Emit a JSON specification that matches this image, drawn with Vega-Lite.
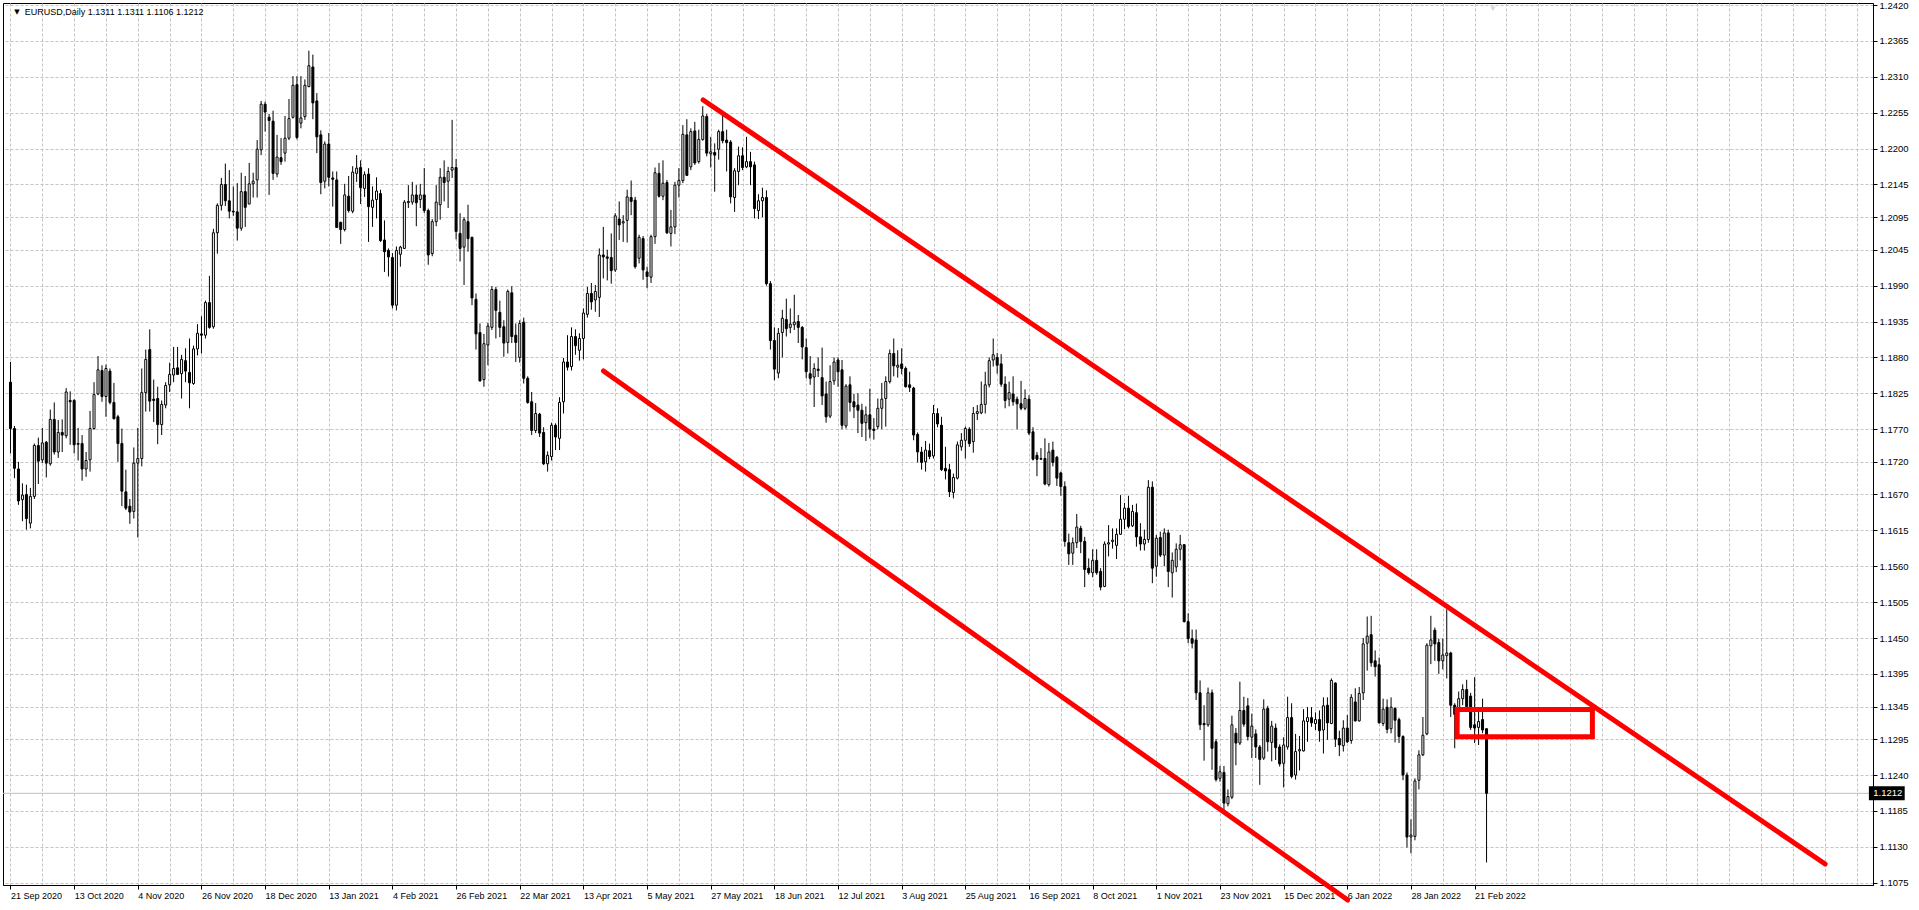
{
"$schema":"https://vega.github.io/schema/vega-lite/v6.json",
"width":1870,"height":882,
"autosize":{"type":"none"},
"padding":{"left":3,"top":3,"right":46,"bottom":25},
"background":"#ffffff",
"config":{"view":{"stroke":"#000000","strokeWidth":1},"font":"Liberation Sans","axis":{"labelFont":"Liberation Sans","labelFontSize":9.5,"labelColor":"#000000","domainColor":"#000000","tickColor":"#000000"}},
"resolve":{"scale":{"x":"shared","y":"shared"},"axis":{"x":"independent","y":"independent"}},
"datasets":{
"k":[
{"i":0,"o":1.1842,"h":1.1873,"l":1.1733,"c":1.1771},
{"i":1,"o":1.1771,"h":1.1775,"l":1.1695,"c":1.1710},
{"i":2,"o":1.1709,"h":1.1720,"l":1.1654,"c":1.1660},
{"i":3,"o":1.1662,"h":1.1687,"l":1.1629,"c":1.1669},
{"i":4,"o":1.1670,"h":1.1685,"l":1.1616,"c":1.1633},
{"i":5,"o":1.1626,"h":1.1680,"l":1.1618,"c":1.1667},
{"i":6,"o":1.1667,"h":1.1748,"l":1.1663,"c":1.1745},
{"i":7,"o":1.1745,"h":1.1757,"l":1.1686,"c":1.1721},
{"i":8,"o":1.1723,"h":1.1772,"l":1.1718,"c":1.1749},
{"i":9,"o":1.1750,"h":1.1752,"l":1.1696,"c":1.1718},
{"i":10,"o":1.1717,"h":1.1800,"l":1.1714,"c":1.1785},
{"i":11,"o":1.1785,"h":1.1811,"l":1.1731,"c":1.1735},
{"i":12,"o":1.1735,"h":1.1784,"l":1.1726,"c":1.1765},
{"i":13,"o":1.1765,"h":1.1785,"l":1.1735,"c":1.1761},
{"i":14,"o":1.1760,"h":1.1833,"l":1.1756,"c":1.1827},
{"i":15,"o":1.1814,"h":1.1828,"l":1.1746,"c":1.1812},
{"i":16,"o":1.1814,"h":1.1816,"l":1.1733,"c":1.1746},
{"i":17,"o":1.1748,"h":1.1772,"l":1.1722,"c":1.1747},
{"i":18,"o":1.1748,"h":1.1761,"l":1.1691,"c":1.1709},
{"i":19,"o":1.1709,"h":1.1735,"l":1.1697,"c":1.1722},
{"i":20,"o":1.1723,"h":1.1798,"l":1.1705,"c":1.1771},
{"i":21,"o":1.1771,"h":1.1842,"l":1.1769,"c":1.1823},
{"i":22,"o":1.1824,"h":1.1882,"l":1.1822,"c":1.1861},
{"i":23,"o":1.1860,"h":1.1868,"l":1.1812,"c":1.1820},
{"i":24,"o":1.1820,"h":1.1869,"l":1.1789,"c":1.1863},
{"i":25,"o":1.1859,"h":1.1863,"l":1.1808,"c":1.1811},
{"i":26,"o":1.1811,"h":1.1841,"l":1.1785,"c":1.1786},
{"i":27,"o":1.1789,"h":1.1792,"l":1.1720,"c":1.1748},
{"i":28,"o":1.1748,"h":1.1771,"l":1.1652,"c":1.1675},
{"i":29,"o":1.1674,"h":1.1708,"l":1.1646,"c":1.1649},
{"i":30,"o":1.1652,"h":1.1663,"l":1.1625,"c":1.1643},
{"i":31,"o":1.1644,"h":1.1742,"l":1.1633,"c":1.1718},
{"i":32,"o":1.1718,"h":1.1772,"l":1.1604,"c":1.1725},
{"i":33,"o":1.1725,"h":1.1863,"l":1.1713,"c":1.1826},
{"i":34,"o":1.1826,"h":1.1892,"l":1.1797,"c":1.1877},
{"i":35,"o":1.1892,"h":1.1923,"l":1.1797,"c":1.1813},
{"i":36,"o":1.1816,"h":1.1846,"l":1.1781,"c":1.1814},
{"i":37,"o":1.1817,"h":1.1835,"l":1.1747,"c":1.1777},
{"i":38,"o":1.1777,"h":1.1814,"l":1.1761,"c":1.1808},
{"i":39,"o":1.1807,"h":1.1842,"l":1.1802,"c":1.1837},
{"i":40,"o":1.1838,"h":1.1872,"l":1.1827,"c":1.1854},
{"i":41,"o":1.1853,"h":1.1896,"l":1.1842,"c":1.1863},
{"i":42,"o":1.1864,"h":1.1896,"l":1.1853,"c":1.1854},
{"i":43,"o":1.1855,"h":1.1884,"l":1.1817,"c":1.1877},
{"i":44,"o":1.1875,"h":1.1894,"l":1.1842,"c":1.1859},
{"i":45,"o":1.1857,"h":1.1909,"l":1.1802,"c":1.1841},
{"i":46,"o":1.1840,"h":1.1898,"l":1.1838,"c":1.1893},
{"i":47,"o":1.1893,"h":1.1931,"l":1.1883,"c":1.1917},
{"i":48,"o":1.1916,"h":1.1943,"l":1.1886,"c":1.1914},
{"i":49,"o":1.1914,"h":1.1967,"l":1.1909,"c":1.1964},
{"i":50,"o":1.1964,"h":1.2005,"l":1.1924,"c":1.1926},
{"i":51,"o":1.1927,"h":1.2077,"l":1.1924,"c":1.2071},
{"i":52,"o":1.2071,"h":1.2116,"l":1.2039,"c":1.2113},
{"i":53,"o":1.2113,"h":1.2155,"l":1.2105,"c":1.2145},
{"i":54,"o":1.2145,"h":1.2177,"l":1.2112,"c":1.2120},
{"i":55,"o":1.2120,"h":1.2167,"l":1.2093,"c":1.2104},
{"i":56,"o":1.2104,"h":1.2142,"l":1.2097,"c":1.2103},
{"i":57,"o":1.2103,"h":1.2147,"l":1.2059,"c":1.2078},
{"i":58,"o":1.2078,"h":1.2163,"l":1.2074,"c":1.2134},
{"i":59,"o":1.2134,"h":1.2158,"l":1.2080,"c":1.2110},
{"i":60,"o":1.2115,"h":1.2178,"l":1.2115,"c":1.2146},
{"i":61,"o":1.2146,"h":1.2163,"l":1.2125,"c":1.2150},
{"i":62,"o":1.2152,"h":1.2213,"l":1.2125,"c":1.2199},
{"i":63,"o":1.2198,"h":1.2273,"l":1.2190,"c":1.2268},
{"i":64,"o":1.2268,"h":1.2272,"l":1.2226,"c":1.2256},
{"i":65,"o":1.2248,"h":1.2253,"l":1.2129,"c":1.2243},
{"i":66,"o":1.2242,"h":1.2258,"l":1.2152,"c":1.2162},
{"i":67,"o":1.2161,"h":1.2221,"l":1.2156,"c":1.2187},
{"i":68,"o":1.2186,"h":1.2216,"l":1.2175,"c":1.2180},
{"i":69,"o":1.2193,"h":1.2250,"l":1.2180,"c":1.2216},
{"i":70,"o":1.2216,"h":1.2276,"l":1.2213,"c":1.2246},
{"i":71,"o":1.2248,"h":1.2311,"l":1.2246,"c":1.2297},
{"i":72,"o":1.2298,"h":1.2311,"l":1.2214,"c":1.2217},
{"i":73,"o":1.2239,"h":1.2311,"l":1.2231,"c":1.2247},
{"i":74,"o":1.2249,"h":1.2306,"l":1.2244,"c":1.2297},
{"i":75,"o":1.2295,"h":1.2350,"l":1.2294,"c":1.2327},
{"i":76,"o":1.2325,"h":1.2344,"l":1.2245,"c":1.2270},
{"i":77,"o":1.2273,"h":1.2285,"l":1.2193,"c":1.2218},
{"i":78,"o":1.2221,"h":1.2228,"l":1.2130,"c":1.2148},
{"i":79,"o":1.2150,"h":1.2211,"l":1.2139,"c":1.2207},
{"i":80,"o":1.2207,"h":1.2224,"l":1.2142,"c":1.2156},
{"i":81,"o":1.2155,"h":1.2165,"l":1.2111,"c":1.2153},
{"i":82,"o":1.2152,"h":1.2165,"l":1.2079,"c":1.2079},
{"i":83,"o":1.2087,"h":1.2088,"l":1.2054,"c":1.2076},
{"i":84,"o":1.2076,"h":1.2146,"l":1.2073,"c":1.2129},
{"i":85,"o":1.2127,"h":1.2158,"l":1.2102,"c":1.2105},
{"i":86,"o":1.2104,"h":1.2173,"l":1.2101,"c":1.2164},
{"i":87,"o":1.2162,"h":1.2190,"l":1.2149,"c":1.2170},
{"i":88,"o":1.2171,"h":1.2182,"l":1.2115,"c":1.2140},
{"i":89,"o":1.2139,"h":1.2165,"l":1.2126,"c":1.2160},
{"i":90,"o":1.2161,"h":1.2170,"l":1.2057,"c":1.2111},
{"i":91,"o":1.2110,"h":1.2142,"l":1.2080,"c":1.2121},
{"i":92,"o":1.2122,"h":1.2156,"l":1.2093,"c":1.2135},
{"i":93,"o":1.2131,"h":1.2137,"l":1.2057,"c":1.2059},
{"i":94,"o":1.2060,"h":1.2090,"l":1.2011,"c":1.2042},
{"i":95,"o":1.2044,"h":1.2047,"l":1.2004,"c":1.2034},
{"i":96,"o":1.2033,"h":1.2040,"l":1.1955,"c":1.1960},
{"i":97,"o":1.1960,"h":1.2050,"l":1.1952,"c":1.2044},
{"i":98,"o":1.2038,"h":1.2051,"l":1.2019,"c":1.2049},
{"i":99,"o":1.2047,"h":1.2121,"l":1.2046,"c":1.2118},
{"i":100,"o":1.2117,"h":1.2144,"l":1.2109,"c":1.2119},
{"i":101,"o":1.2118,"h":1.2149,"l":1.2114,"c":1.2129},
{"i":102,"o":1.2129,"h":1.2144,"l":1.2081,"c":1.2117},
{"i":103,"o":1.2122,"h":1.2146,"l":1.2109,"c":1.2129},
{"i":104,"o":1.2129,"h":1.2170,"l":1.2101,"c":1.2105},
{"i":105,"o":1.2105,"h":1.2108,"l":1.2022,"c":1.2037},
{"i":106,"o":1.2039,"h":1.2092,"l":1.2035,"c":1.2088},
{"i":107,"o":1.2088,"h":1.2144,"l":1.2081,"c":1.2118},
{"i":108,"o":1.2114,"h":1.2170,"l":1.2091,"c":1.2156},
{"i":109,"o":1.2156,"h":1.2182,"l":1.2119,"c":1.2148},
{"i":110,"o":1.2150,"h":1.2172,"l":1.2109,"c":1.2165},
{"i":111,"o":1.2167,"h":1.2244,"l":1.2155,"c":1.2171},
{"i":112,"o":1.2171,"h":1.2184,"l":1.2061,"c":1.2073},
{"i":113,"o":1.2070,"h":1.2101,"l":1.2027,"c":1.2047},
{"i":114,"o":1.2049,"h":1.2095,"l":1.1991,"c":1.2091},
{"i":115,"o":1.2088,"h":1.2114,"l":1.2042,"c":1.2062},
{"i":116,"o":1.2064,"h":1.2065,"l":1.1960,"c":1.1971},
{"i":117,"o":1.1969,"h":1.1978,"l":1.1892,"c":1.1916},
{"i":118,"o":1.1918,"h":1.1932,"l":1.1843,"c":1.1844},
{"i":119,"o":1.1846,"h":1.1916,"l":1.1835,"c":1.1901},
{"i":120,"o":1.1899,"h":1.1933,"l":1.1868,"c":1.1928},
{"i":121,"o":1.1926,"h":1.1989,"l":1.1922,"c":1.1984},
{"i":122,"o":1.1984,"h":1.1988,"l":1.1909,"c":1.1952},
{"i":123,"o":1.1949,"h":1.1967,"l":1.1911,"c":1.1926},
{"i":124,"o":1.1927,"h":1.1937,"l":1.1881,"c":1.1902},
{"i":125,"o":1.1903,"h":1.1984,"l":1.1886,"c":1.1981},
{"i":126,"o":1.1979,"h":1.1989,"l":1.1902,"c":1.1912},
{"i":127,"o":1.1914,"h":1.1932,"l":1.1873,"c":1.1903},
{"i":128,"o":1.1880,"h":1.1937,"l":1.1872,"c":1.1932},
{"i":129,"o":1.1934,"h":1.1941,"l":1.1840,"c":1.1848},
{"i":130,"o":1.1848,"h":1.1851,"l":1.1809,"c":1.1811},
{"i":131,"o":1.1812,"h":1.1827,"l":1.1761,"c":1.1768},
{"i":132,"o":1.1768,"h":1.1810,"l":1.1764,"c":1.1794},
{"i":133,"o":1.1793,"h":1.1795,"l":1.1758,"c":1.1764},
{"i":134,"o":1.1765,"h":1.1773,"l":1.1715,"c":1.1717},
{"i":135,"o":1.1717,"h":1.1736,"l":1.1705,"c":1.1730},
{"i":136,"o":1.1728,"h":1.1780,"l":1.1722,"c":1.1776},
{"i":137,"o":1.1776,"h":1.1779,"l":1.1738,"c":1.1758},
{"i":138,"o":1.1756,"h":1.1819,"l":1.1738,"c":1.1811},
{"i":139,"o":1.1812,"h":1.1879,"l":1.1794,"c":1.1873},
{"i":140,"o":1.1873,"h":1.1914,"l":1.1860,"c":1.1865},
{"i":141,"o":1.1866,"h":1.1926,"l":1.1860,"c":1.1912},
{"i":142,"o":1.1912,"h":1.1923,"l":1.1884,"c":1.1898},
{"i":143,"o":1.1891,"h":1.1917,"l":1.1875,"c":1.1909},
{"i":144,"o":1.1909,"h":1.1955,"l":1.1877,"c":1.1948},
{"i":145,"o":1.1946,"h":1.1988,"l":1.1941,"c":1.1978},
{"i":146,"o":1.1978,"h":1.1994,"l":1.1953,"c":1.1965},
{"i":147,"o":1.1968,"h":1.1991,"l":1.1950,"c":1.1981},
{"i":148,"o":1.1972,"h":1.2047,"l":1.1942,"c":1.2037},
{"i":149,"o":1.2037,"h":1.2080,"l":1.2001,"c":1.2034},
{"i":150,"o":1.2034,"h":1.2045,"l":1.1998,"c":1.2032},
{"i":151,"o":1.2033,"h":1.2070,"l":1.1993,"c":1.2013},
{"i":152,"o":1.2014,"h":1.2101,"l":1.2011,"c":1.2097},
{"i":153,"o":1.2092,"h":1.2119,"l":1.2060,"c":1.2083},
{"i":154,"o":1.2086,"h":1.2098,"l":1.2057,"c":1.2088},
{"i":155,"o":1.2090,"h":1.2137,"l":1.2056,"c":1.2126},
{"i":156,"o":1.2125,"h":1.2151,"l":1.2098,"c":1.2119},
{"i":157,"o":1.2121,"h":1.2126,"l":1.2016,"c":1.2019},
{"i":158,"o":1.2032,"h":1.2068,"l":1.2024,"c":1.2064},
{"i":159,"o":1.2062,"h":1.2066,"l":1.1999,"c":1.2014},
{"i":160,"o":1.2011,"h":1.2019,"l":1.1986,"c":1.2004},
{"i":161,"o":1.2003,"h":1.2068,"l":1.1994,"c":1.2065},
{"i":162,"o":1.2065,"h":1.2171,"l":1.2054,"c":1.2163},
{"i":163,"o":1.2162,"h":1.2178,"l":1.2125,"c":1.2127},
{"i":164,"o":1.2127,"h":1.2182,"l":1.2121,"c":1.2147},
{"i":165,"o":1.2148,"h":1.2152,"l":1.2069,"c":1.2071},
{"i":166,"o":1.2070,"h":1.2106,"l":1.2050,"c":1.2080},
{"i":167,"o":1.2080,"h":1.2149,"l":1.2069,"c":1.2144},
{"i":168,"o":1.2144,"h":1.2170,"l":1.2125,"c":1.2151},
{"i":169,"o":1.2151,"h":1.2236,"l":1.2147,"c":1.2222},
{"i":170,"o":1.2221,"h":1.2245,"l":1.2158,"c":1.2159},
{"i":171,"o":1.2172,"h":1.2231,"l":1.2167,"c":1.2226},
{"i":172,"o":1.2227,"h":1.2241,"l":1.2175,"c":1.2178},
{"i":173,"o":1.2180,"h":1.2229,"l":1.2177,"c":1.2214},
{"i":174,"o":1.2214,"h":1.2265,"l":1.2212,"c":1.2250},
{"i":175,"o":1.2249,"h":1.2253,"l":1.2188,"c":1.2193},
{"i":176,"o":1.2192,"h":1.2218,"l":1.2171,"c":1.2195},
{"i":177,"o":1.2194,"h":1.2208,"l":1.2134,"c":1.2190},
{"i":178,"o":1.2199,"h":1.2229,"l":1.2183,"c":1.2226},
{"i":179,"o":1.2226,"h":1.2251,"l":1.2208,"c":1.2212},
{"i":180,"o":1.2213,"h":1.2229,"l":1.2165,"c":1.2209},
{"i":181,"o":1.2210,"h":1.2213,"l":1.2116,"c":1.2126},
{"i":182,"o":1.2125,"h":1.2170,"l":1.2103,"c":1.2166},
{"i":183,"o":1.2165,"h":1.2203,"l":1.2144,"c":1.2189},
{"i":184,"o":1.2189,"h":1.2202,"l":1.2167,"c":1.2171},
{"i":185,"o":1.2172,"h":1.2218,"l":1.2170,"c":1.2180},
{"i":186,"o":1.2180,"h":1.2195,"l":1.2144,"c":1.2172},
{"i":187,"o":1.2175,"h":1.2180,"l":1.2093,"c":1.2108},
{"i":188,"o":1.2105,"h":1.2130,"l":1.2092,"c":1.2120},
{"i":189,"o":1.2120,"h":1.2140,"l":1.2095,"c":1.2125},
{"i":190,"o":1.2125,"h":1.2136,"l":1.1990,"c":1.1993},
{"i":191,"o":1.1993,"h":1.1997,"l":1.1892,"c":1.1906},
{"i":192,"o":1.1906,"h":1.1926,"l":1.1845,"c":1.1862},
{"i":193,"o":1.1856,"h":1.1925,"l":1.1848,"c":1.1917},
{"i":194,"o":1.1918,"h":1.1953,"l":1.1880,"c":1.1940},
{"i":195,"o":1.1938,"h":1.1970,"l":1.1912,"c":1.1924},
{"i":196,"o":1.1926,"h":1.1955,"l":1.1917,"c":1.1931},
{"i":197,"o":1.1930,"h":1.1976,"l":1.1922,"c":1.1934},
{"i":198,"o":1.1935,"h":1.1945,"l":1.1902,"c":1.1926},
{"i":199,"o":1.1926,"h":1.1928,"l":1.1877,"c":1.1896},
{"i":200,"o":1.1895,"h":1.1909,"l":1.1848,"c":1.1858},
{"i":201,"o":1.1855,"h":1.1882,"l":1.1838,"c":1.1848},
{"i":202,"o":1.1850,"h":1.1871,"l":1.1804,"c":1.1863},
{"i":203,"o":1.1862,"h":1.1880,"l":1.1850,"c":1.1860},
{"i":204,"o":1.1849,"h":1.1895,"l":1.1807,"c":1.1821},
{"i":205,"o":1.1824,"h":1.1843,"l":1.1780,"c":1.1789},
{"i":206,"o":1.1790,"h":1.1868,"l":1.1787,"c":1.1843},
{"i":207,"o":1.1844,"h":1.1880,"l":1.1838,"c":1.1873},
{"i":208,"o":1.1876,"h":1.1880,"l":1.1835,"c":1.1858},
{"i":209,"o":1.1861,"h":1.1876,"l":1.1770,"c":1.1776},
{"i":210,"o":1.1775,"h":1.1839,"l":1.1771,"c":1.1836},
{"i":211,"o":1.1838,"h":1.1851,"l":1.1797,"c":1.1811},
{"i":212,"o":1.1812,"h":1.1824,"l":1.1787,"c":1.1804},
{"i":213,"o":1.1807,"h":1.1825,"l":1.1764,"c":1.1799},
{"i":214,"o":1.1799,"h":1.1809,"l":1.1758,"c":1.1779},
{"i":215,"o":1.1780,"h":1.1805,"l":1.1752,"c":1.1792},
{"i":216,"o":1.1792,"h":1.1832,"l":1.1756,"c":1.1770},
{"i":217,"o":1.1770,"h":1.1787,"l":1.1754,"c":1.1768},
{"i":218,"o":1.1774,"h":1.1817,"l":1.1770,"c":1.1802},
{"i":219,"o":1.1802,"h":1.1841,"l":1.1770,"c":1.1816},
{"i":220,"o":1.1817,"h":1.1851,"l":1.1774,"c":1.1843},
{"i":221,"o":1.1843,"h":1.1892,"l":1.1840,"c":1.1886},
{"i":222,"o":1.1886,"h":1.1909,"l":1.1851,"c":1.1867},
{"i":223,"o":1.1865,"h":1.1891,"l":1.1849,"c":1.1868},
{"i":224,"o":1.1870,"h":1.1894,"l":1.1854,"c":1.1863},
{"i":225,"o":1.1863,"h":1.1866,"l":1.1834,"c":1.1835},
{"i":226,"o":1.1838,"h":1.1858,"l":1.1827,"c":1.1834},
{"i":227,"o":1.1833,"h":1.1835,"l":1.1753,"c":1.1761},
{"i":228,"o":1.1762,"h":1.1765,"l":1.1719,"c":1.1735},
{"i":229,"o":1.1735,"h":1.1743,"l":1.1708,"c":1.1719},
{"i":230,"o":1.1720,"h":1.1752,"l":1.1705,"c":1.1738},
{"i":231,"o":1.1737,"h":1.1748,"l":1.1724,"c":1.1728},
{"i":232,"o":1.1729,"h":1.1807,"l":1.1725,"c":1.1794},
{"i":233,"o":1.1794,"h":1.1802,"l":1.1773,"c":1.1778},
{"i":234,"o":1.1776,"h":1.1789,"l":1.1706,"c":1.1708},
{"i":235,"o":1.1710,"h":1.1743,"l":1.1693,"c":1.1706},
{"i":236,"o":1.1708,"h":1.1717,"l":1.1666,"c":1.1674},
{"i":237,"o":1.1673,"h":1.1702,"l":1.1664,"c":1.1696},
{"i":238,"o":1.1695,"h":1.1751,"l":1.1693,"c":1.1746},
{"i":239,"o":1.1743,"h":1.1764,"l":1.1737,"c":1.1753},
{"i":240,"o":1.1753,"h":1.1774,"l":1.1725,"c":1.1771},
{"i":241,"o":1.1770,"h":1.1773,"l":1.1743,"c":1.1748},
{"i":242,"o":1.1751,"h":1.1804,"l":1.1734,"c":1.1794},
{"i":243,"o":1.1794,"h":1.1807,"l":1.1784,"c":1.1797},
{"i":244,"o":1.1795,"h":1.1843,"l":1.1793,"c":1.1808},
{"i":245,"o":1.1808,"h":1.1858,"l":1.1794,"c":1.1838},
{"i":246,"o":1.1838,"h":1.1880,"l":1.1834,"c":1.1875},
{"i":247,"o":1.1876,"h":1.1909,"l":1.1866,"c":1.1884},
{"i":248,"o":1.1880,"h":1.1887,"l":1.1855,"c":1.1868},
{"i":249,"o":1.1870,"h":1.1885,"l":1.1835,"c":1.1839},
{"i":250,"o":1.1839,"h":1.1851,"l":1.1802,"c":1.1814},
{"i":251,"o":1.1816,"h":1.1843,"l":1.1805,"c":1.1826},
{"i":252,"o":1.1824,"h":1.1851,"l":1.1806,"c":1.1812},
{"i":253,"o":1.1816,"h":1.1820,"l":1.1770,"c":1.1809},
{"i":254,"o":1.1809,"h":1.1844,"l":1.1799,"c":1.1802},
{"i":255,"o":1.1802,"h":1.1831,"l":1.1799,"c":1.1817},
{"i":256,"o":1.1816,"h":1.1822,"l":1.1761,"c":1.1764},
{"i":257,"o":1.1766,"h":1.1773,"l":1.1722,"c":1.1724},
{"i":258,"o":1.1730,"h":1.1735,"l":1.1698,"c":1.1724},
{"i":259,"o":1.1725,"h":1.1741,"l":1.1723,"c":1.1724},
{"i":260,"o":1.1725,"h":1.1756,"l":1.1684,"c":1.1686},
{"i":261,"o":1.1685,"h":1.1749,"l":1.1682,"c":1.1735},
{"i":262,"o":1.1738,"h":1.1751,"l":1.1713,"c":1.1719},
{"i":263,"o":1.1727,"h":1.1729,"l":1.1683,"c":1.1695},
{"i":264,"o":1.1703,"h":1.1705,"l":1.1668,"c":1.1682},
{"i":265,"o":1.1682,"h":1.1690,"l":1.1590,"c":1.1598},
{"i":266,"o":1.1596,"h":1.1610,"l":1.1562,"c":1.1579},
{"i":267,"o":1.1580,"h":1.1604,"l":1.1562,"c":1.1596},
{"i":268,"o":1.1596,"h":1.1640,"l":1.1588,"c":1.1620},
{"i":269,"o":1.1618,"h":1.1622,"l":1.1580,"c":1.1598},
{"i":270,"o":1.1598,"h":1.1605,"l":1.1528,"c":1.1555},
{"i":271,"o":1.1557,"h":1.1572,"l":1.1547,"c":1.1550},
{"i":272,"o":1.1550,"h":1.1586,"l":1.1543,"c":1.1569},
{"i":273,"o":1.1569,"h":1.1586,"l":1.1547,"c":1.1550},
{"i":274,"o":1.1552,"h":1.1557,"l":1.1523,"c":1.1528},
{"i":275,"o":1.1529,"h":1.1598,"l":1.1528,"c":1.1594},
{"i":276,"o":1.1594,"h":1.1623,"l":1.1575,"c":1.1596},
{"i":277,"o":1.1598,"h":1.1618,"l":1.1587,"c":1.1600},
{"i":278,"o":1.1592,"h":1.1618,"l":1.1571,"c":1.1609},
{"i":279,"o":1.1609,"h":1.1669,"l":1.1608,"c":1.1632},
{"i":280,"o":1.1632,"h":1.1657,"l":1.1617,"c":1.1649},
{"i":281,"o":1.1649,"h":1.1668,"l":1.1618,"c":1.1621},
{"i":282,"o":1.1622,"h":1.1654,"l":1.1620,"c":1.1644},
{"i":283,"o":1.1642,"h":1.1656,"l":1.1590,"c":1.1605},
{"i":284,"o":1.1605,"h":1.1626,"l":1.1584,"c":1.1594},
{"i":285,"o":1.1594,"h":1.1616,"l":1.1584,"c":1.1601},
{"i":286,"o":1.1601,"h":1.1692,"l":1.1596,"c":1.1681},
{"i":287,"o":1.1681,"h":1.1690,"l":1.1534,"c":1.1557},
{"i":288,"o":1.1560,"h":1.1608,"l":1.1544,"c":1.1603},
{"i":289,"o":1.1604,"h":1.1613,"l":1.1574,"c":1.1577},
{"i":290,"o":1.1577,"h":1.1618,"l":1.1560,"c":1.1611},
{"i":291,"o":1.1611,"h":1.1616,"l":1.1528,"c":1.1552},
{"i":292,"o":1.1550,"h":1.1581,"l":1.1512,"c":1.1569},
{"i":293,"o":1.1559,"h":1.1595,"l":1.1551,"c":1.1586},
{"i":294,"o":1.1586,"h":1.1608,"l":1.1569,"c":1.1593},
{"i":295,"o":1.1593,"h":1.1594,"l":1.1474,"c":1.1475},
{"i":296,"o":1.1475,"h":1.1488,"l":1.1442,"c":1.1449},
{"i":297,"o":1.1449,"h":1.1463,"l":1.1434,"c":1.1442},
{"i":298,"o":1.1447,"h":1.1463,"l":1.1355,"c":1.1366},
{"i":299,"o":1.1366,"h":1.1385,"l":1.1309,"c":1.1317},
{"i":300,"o":1.1319,"h":1.1347,"l":1.1262,"c":1.1317},
{"i":301,"o":1.1317,"h":1.1374,"l":1.1314,"c":1.1366},
{"i":302,"o":1.1366,"h":1.1371,"l":1.1248,"c":1.1281},
{"i":303,"o":1.1291,"h":1.1295,"l":1.1230,"c":1.1233},
{"i":304,"o":1.1235,"h":1.1254,"l":1.1230,"c":1.1245},
{"i":305,"o":1.1244,"h":1.1254,"l":1.1185,"c":1.1197},
{"i":306,"o":1.1196,"h":1.1218,"l":1.1192,"c":1.1207},
{"i":307,"o":1.1206,"h":1.1331,"l":1.1203,"c":1.1317},
{"i":308,"o":1.1304,"h":1.1312,"l":1.1255,"c":1.1289},
{"i":309,"o":1.1289,"h":1.1383,"l":1.1286,"c":1.1339},
{"i":310,"o":1.1339,"h":1.1360,"l":1.1314,"c":1.1318},
{"i":311,"o":1.1346,"h":1.1358,"l":1.1293,"c":1.1299},
{"i":312,"o":1.1298,"h":1.1334,"l":1.1266,"c":1.1315},
{"i":313,"o":1.1303,"h":1.1310,"l":1.1266,"c":1.1283},
{"i":314,"o":1.1283,"h":1.1286,"l":1.1225,"c":1.1264},
{"i":315,"o":1.1266,"h":1.1356,"l":1.1263,"c":1.1341},
{"i":316,"o":1.1342,"h":1.1346,"l":1.1276,"c":1.1291},
{"i":317,"o":1.1290,"h":1.1323,"l":1.1261,"c":1.1315},
{"i":318,"o":1.1312,"h":1.1319,"l":1.1263,"c":1.1282},
{"i":319,"o":1.1283,"h":1.1287,"l":1.1253,"c":1.1257},
{"i":320,"o":1.1258,"h":1.1298,"l":1.1221,"c":1.1286},
{"i":321,"o":1.1283,"h":1.1360,"l":1.1279,"c":1.1328},
{"i":322,"o":1.1328,"h":1.1350,"l":1.1235,"c":1.1238},
{"i":323,"o":1.1240,"h":1.1303,"l":1.1233,"c":1.1276},
{"i":324,"o":1.1277,"h":1.1300,"l":1.1247,"c":1.1279},
{"i":325,"o":1.1277,"h":1.1341,"l":1.1276,"c":1.1323},
{"i":326,"o":1.1322,"h":1.1344,"l":1.1291,"c":1.1328},
{"i":327,"o":1.1328,"h":1.1344,"l":1.1314,"c":1.1320},
{"i":328,"o":1.1319,"h":1.1336,"l":1.1309,"c":1.1325},
{"i":329,"o":1.1325,"h":1.1339,"l":1.1291,"c":1.1308},
{"i":330,"o":1.1309,"h":1.1359,"l":1.1273,"c":1.1346},
{"i":331,"o":1.1347,"h":1.1359,"l":1.1294,"c":1.1320},
{"i":332,"o":1.1319,"h":1.1388,"l":1.1318,"c":1.1385},
{"i":333,"o":1.1381,"h":1.1382,"l":1.1283,"c":1.1295},
{"i":334,"o":1.1296,"h":1.1308,"l":1.1269,"c":1.1286},
{"i":335,"o":1.1285,"h":1.1324,"l":1.1276,"c":1.1312},
{"i":336,"o":1.1312,"h":1.1332,"l":1.1289,"c":1.1291},
{"i":337,"o":1.1293,"h":1.1364,"l":1.1288,"c":1.1359},
{"i":338,"o":1.1352,"h":1.1373,"l":1.1322,"c":1.1323},
{"i":339,"o":1.1323,"h":1.1375,"l":1.1322,"c":1.1365},
{"i":340,"o":1.1366,"h":1.1450,"l":1.1355,"c":1.1441},
{"i":341,"o":1.1442,"h":1.1483,"l":1.1400,"c":1.1453},
{"i":342,"o":1.1455,"h":1.1484,"l":1.1406,"c":1.1412},
{"i":343,"o":1.1415,"h":1.1431,"l":1.1391,"c":1.1406},
{"i":344,"o":1.1409,"h":1.1420,"l":1.1319,"c":1.1320},
{"i":345,"o":1.1319,"h":1.1357,"l":1.1315,"c":1.1341},
{"i":346,"o":1.1344,"h":1.1356,"l":1.1304,"c":1.1310},
{"i":347,"o":1.1311,"h":1.1359,"l":1.1304,"c":1.1344},
{"i":348,"o":1.1342,"h":1.1344,"l":1.1290,"c":1.1324},
{"i":349,"o":1.1325,"h":1.1328,"l":1.1289,"c":1.1299},
{"i":350,"o":1.1299,"h":1.1301,"l":1.1232,"c":1.1240},
{"i":351,"o":1.1240,"h":1.1244,"l":1.1129,"c":1.1145},
{"i":352,"o":1.1145,"h":1.1172,"l":1.1120,"c":1.1148},
{"i":353,"o":1.1146,"h":1.1235,"l":1.1140,"c":1.1231},
{"i":354,"o":1.1232,"h":1.1278,"l":1.1218,"c":1.1271},
{"i":355,"o":1.1271,"h":1.1329,"l":1.1269,"c":1.1301},
{"i":356,"o":1.1303,"h":1.1442,"l":1.1301,"c":1.1439},
{"i":357,"o":1.1438,"h":1.1484,"l":1.1410,"c":1.1447},
{"i":358,"o":1.1462,"h":1.1466,"l":1.1415,"c":1.1441},
{"i":359,"o":1.1443,"h":1.1449,"l":1.1395,"c":1.1415},
{"i":360,"o":1.1415,"h":1.1449,"l":1.1402,"c":1.1424},
{"i":361,"o":1.1423,"h":1.1494,"l":1.1388,"c":1.1427},
{"i":362,"o":1.1427,"h":1.1429,"l":1.1329,"c":1.1347},
{"i":363,"o":1.1347,"h":1.1350,"l":1.1281,"c":1.1333},
{"i":364,"o":1.1337,"h":1.1368,"l":1.1319,"c":1.1357},
{"i":365,"o":1.1357,"h":1.1379,"l":1.1347,"c":1.1371},
{"i":366,"o":1.1371,"h":1.1386,"l":1.1340,"c":1.1345},
{"i":367,"o":1.1361,"h":1.1366,"l":1.1309,"c":1.1313},
{"i":368,"o":1.1317,"h":1.1390,"l":1.1289,"c":1.1312},
{"i":369,"o":1.1313,"h":1.1339,"l":1.1286,"c":1.1322},
{"i":370,"o":1.1325,"h":1.1357,"l":1.1304,"c":1.1309},
{"i":371,"o":1.1311,"h":1.1311,"l":1.1106,"c":1.1212}
],
"lines":[
{"g":"upper","i":174.1,"p":1.22745},
{"g":"upper","i":456.1,"p":1.11037},
{"g":"lower","i":149.05,"p":1.18592},
{"g":"lower","i":336.1,"p":1.10485}
]
},
"layer":[
{"data":{"values":[{"p":1.1212}]},
 "mark":{"type":"rule","color":"#c0c0c0","strokeWidth":1},
 "encoding":{"y":{"field":"p","type":"quantitative","scale":{"domain":[1.10715,1.24231],"nice":false,"zero":false},
   "axis":{"orient":"right","values":[1.2420,1.2365,1.2310,1.2255,1.2200,1.2145,1.2095,1.2045,1.1990,1.1935,1.1880,1.1825,1.1770,1.1720,1.1670,1.1615,1.1560,1.1505,1.1450,1.1395,1.1345,1.1295,1.1240,1.1185,1.1130,1.1075],
   "format":".4f","title":null,"grid":true,"gridColor":"#c4c4c4","gridDash":[3,2],"gridWidth":1,"tickSize":4,"labelPadding":2,"labelFlush":false,"labelBound":false,"labelOverlap":false,"zindex":0}}}},
{"data":{"name":"k"},
 "mark":{"type":"rule","color":"#000000","strokeWidth":1},
 "encoding":{
  "x":{"field":"i","type":"quantitative","scale":{"domain":[-0.625,466.875],"nice":false,"zero":false},
   "axis":{"orient":"bottom","values":[0,8,16,24,32,40,48,56,64,72,80,88,96,104,112,120,128,136,144,152,160,168,176,184,192,200,208,216,224,232,240,248,256,264,272,280,288,296,304,312,320,328,336,344,352,360,368,376,384,392,400,408,416,424,432,440,448,456,464],
   "title":null,"grid":true,"gridColor":"#c4c4c4","gridDash":[3,2],"gridWidth":1,"tickSize":4,
   "tickOpacity":{"condition":{"test":"datum.value % 16 == 0 && datum.value <= 368","value":1},"value":0},
   "labelExpr":"datum.value % 16 == 0 && datum.value <= 368 ? ['21 Sep 2020','13 Oct 2020','4 Nov 2020','26 Nov 2020','18 Dec 2020','13 Jan 2021','4 Feb 2021','26 Feb 2021','22 Mar 2021','13 Apr 2021','5 May 2021','27 May 2021','18 Jun 2021','12 Jul 2021','3 Aug 2021','25 Aug 2021','16 Sep 2021','8 Oct 2021','1 Nov 2021','23 Nov 2021','15 Dec 2021','6 Jan 2022','28 Jan 2022','21 Feb 2022'][datum.value / 16] : ''",
   "labelAlign":"left","labelBaseline":"top","labelPadding":2,"labelFontSize":9,"labelFlush":false,"labelBound":false,"labelOverlap":false,"zindex":0}},
  "y":{"field":"l","type":"quantitative","scale":{"domain":[1.10715,1.24231],"nice":false,"zero":false},"axis":null},
  "y2":{"field":"h"}}},
{"data":{"name":"k"},
 "mark":{"type":"bar","orient":"vertical","size":2,"stroke":"#000000","strokeWidth":1},
 "encoding":{
  "x":{"field":"i","type":"quantitative","scale":{"domain":[-0.625,466.875],"nice":false,"zero":false},"axis":null},
  "y":{"field":"o","type":"quantitative","scale":{"domain":[1.10715,1.24231],"nice":false,"zero":false},"axis":null},
  "y2":{"field":"c"},
  "fill":{"condition":{"test":"datum.c >= datum.o","value":"#ffffff"},"value":"#000000"}}},
{"data":{"name":"lines"},
 "mark":{"type":"line","color":"#ff0000","strokeWidth":5,"strokeCap":"round","clip":false},
 "encoding":{
  "x":{"field":"i","type":"quantitative","scale":{"domain":[-0.625,466.875],"nice":false,"zero":false},"axis":null},
  "y":{"field":"p","type":"quantitative","scale":{"domain":[1.10715,1.24231],"nice":false,"zero":false},"axis":null},
  "detail":{"field":"g"}}},
{"data":{"values":[{"i":363.6,"i2":397.6,"p":1.13404,"p2":1.12986}]},
 "mark":{"type":"rect","fill":"transparent","stroke":"#ff0000","strokeWidth":5,"strokeJoin":"miter","clip":false},
 "encoding":{
  "x":{"field":"i","type":"quantitative","scale":{"domain":[-0.625,466.875],"nice":false,"zero":false},"axis":null},
  "x2":{"field":"i2"},
  "y":{"field":"p","type":"quantitative","scale":{"domain":[1.10715,1.24231],"nice":false,"zero":false},"axis":null},
  "y2":{"field":"p2"}}},
{"data":{"values":[{"i":467.1,"i2":476.1,"p":1.12227,"p2":1.12013}]},
 "mark":{"type":"rect","fill":"#000000","clip":false},
 "encoding":{
  "x":{"field":"i","type":"quantitative","scale":{"domain":[-0.625,466.875],"nice":false,"zero":false},"axis":null},
  "x2":{"field":"i2"},
  "y":{"field":"p","type":"quantitative","scale":{"domain":[1.10715,1.24231],"nice":false,"zero":false},"axis":null},
  "y2":{"field":"p2"}}},
{"data":{"values":[{"i":468.2,"p":1.1212,"t":"1.1212"}]},
 "mark":{"type":"text","color":"#ffffff","fontSize":9.5,"font":"Liberation Sans","align":"left","baseline":"middle","clip":false},
 "encoding":{
  "x":{"field":"i","type":"quantitative","scale":{"domain":[-0.625,466.875],"nice":false,"zero":false},"axis":null},
  "y":{"field":"p","type":"quantitative","scale":{"domain":[1.10715,1.24231],"nice":false,"zero":false},"axis":null},
  "text":{"field":"t"}}},
{"data":{"values":[{"i":1.6,"p":1.24093,"t":"▼"}]},
 "mark":{"type":"text","color":"#000000","fontSize":7,"font":"DejaVu Sans","align":"center","baseline":"middle","clip":false},
 "encoding":{
  "x":{"field":"i","type":"quantitative","scale":{"domain":[-0.625,466.875],"nice":false,"zero":false},"axis":null},
  "y":{"field":"p","type":"quantitative","scale":{"domain":[1.10715,1.24231],"nice":false,"zero":false},"axis":null},
  "text":{"field":"t"}}},
{"data":{"values":[{"i":3.6,"p":1.24093,"t":"EURUSD,Daily  1.1311 1.1311 1.1106 1.1212"}]},
 "mark":{"type":"text","color":"#000000","fontSize":9,"font":"Liberation Sans","align":"left","baseline":"middle","clip":false},
 "encoding":{
  "x":{"field":"i","type":"quantitative","scale":{"domain":[-0.625,466.875],"nice":false,"zero":false},"axis":null},
  "y":{"field":"p","type":"quantitative","scale":{"domain":[1.10715,1.24231],"nice":false,"zero":false},"axis":null},
  "text":{"field":"t"}}},
{"data":{"values":[{"i":372.6,"p":1.2414}]},
 "mark":{"type":"point","shape":"triangle-down","filled":true,"color":"#c8c8c8","size":30,"clip":false},
 "encoding":{
  "x":{"field":"i","type":"quantitative","scale":{"domain":[-0.625,466.875],"nice":false,"zero":false},"axis":null},
  "y":{"field":"p","type":"quantitative","scale":{"domain":[1.10715,1.24231],"nice":false,"zero":false},"axis":null}}}
]
}
